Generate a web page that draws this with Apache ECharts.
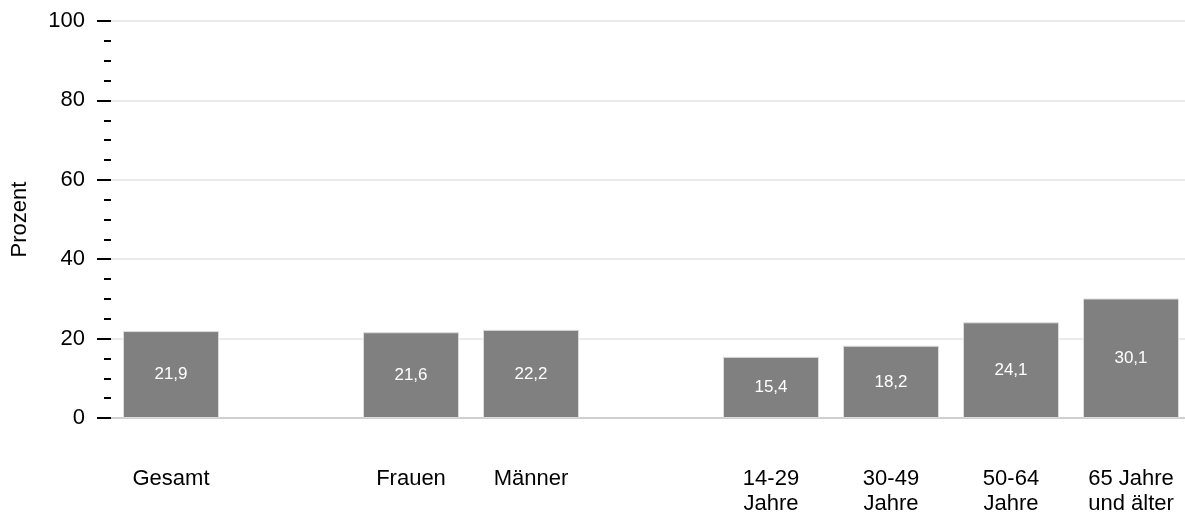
<!DOCTYPE html>
<html>
<head>
<meta charset="utf-8">
<script src="https://cdn.jsdelivr.net/npm/echarts@6/dist/echarts.min.js"></script>
<style>
html,body{margin:0;padding:0;background:#fff;overflow:hidden;width:1185px;height:518px;}
#chart{width:1191px;height:518px;}
</style>
</head>
<body>
<div id="chart"></div>
<script>
const categories = ['Gesamt', '', 'Frauen', 'Männer', '', '14-29\nJahre', '30-49\nJahre', '50-64\nJahre', '65 Jahre\nund älter'];
const values = [21.9, '-', 21.6, 22.2, '-', 15.4, 18.2, 24.1, 30.1];
const yTicks = [0, 20, 40, 60, 80, 100];
const yTitle = 'Prozent';

const chart = echarts.init(document.getElementById('chart'));
chart.setOption({
  animation: false,
  textStyle: { fontFamily: 'Liberation Sans, Arial, sans-serif' },
  grid: { left: 111, right: 0, top: 21, bottom: 100, containLabel: false },
  xAxis: {
    type: 'category',
    data: categories,
    axisLine: { show: true, lineStyle: { color: '#d0d0d0', width: 2 } },
    axisTick: { show: false },
    axisLabel: { color: '#000', fontSize: 22, lineHeight: 25, margin: 48, interval: 0 }
  },
  yAxis: {
    type: 'value',
    min: yTicks[0],
    max: yTicks[yTicks.length - 1],
    interval: 20,
    name: yTitle,
    nameLocation: 'middle',
    nameGap: 80,
    nameTextStyle: { color: '#000', fontSize: 22 },
    axisLine: { show: false },
    axisTick: { show: true, length: 14, lineStyle: { color: '#000', width: 2 } },
    minorTick: { show: true, splitNumber: 4, length: 7, lineStyle: { color: '#000', width: 2 } },
    axisLabel: { color: '#000', fontSize: 22, margin: 26 },
    splitLine: { show: true, lineStyle: { color: '#e3e3e3', width: 1.5 } }
  },
  series: [{
    type: 'bar',
    data: values,
    barCategoryGap: '20%',
    itemStyle: { color: '#808080', borderColor: '#dcdcdc', borderWidth: 1 },
    label: {
      show: true,
      position: 'inside',
      color: '#fff',
      fontSize: 17,
      formatter: p => String(p.value).replace('.', ',')
    }
  }]
});
</script>
</body>
</html>
